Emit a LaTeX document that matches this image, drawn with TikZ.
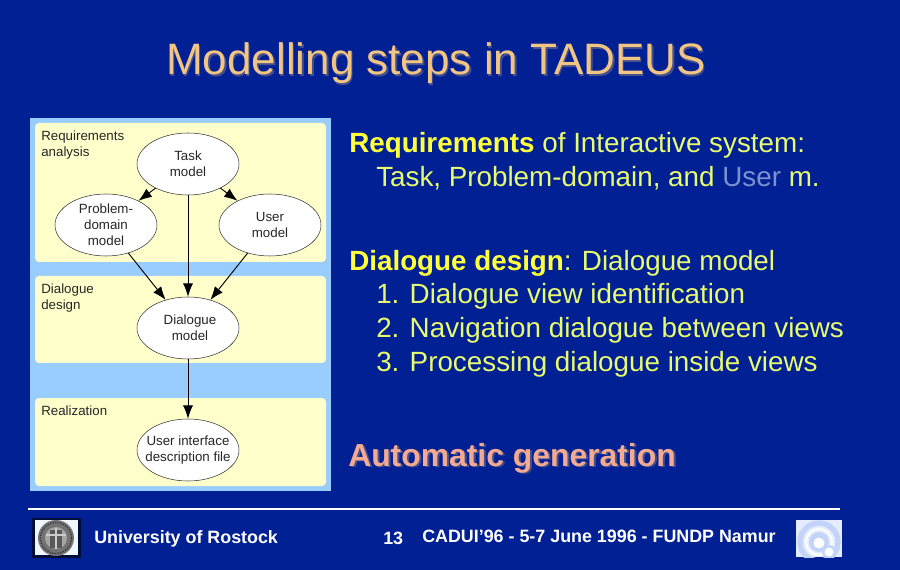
\documentclass[tikz,border=0pt]{standalone}
\usepackage{fontspec}
\setmainfont{Liberation Sans}
\usetikzlibrary{shapes.geometric,arrows.meta}
\definecolor{bgblue}{RGB}{0,32,148}
\definecolor{panelblue}{RGB}{153,204,255}
\definecolor{panelyellow}{RGB}{255,255,204}
\definecolor{titlecol}{RGB}{243,197,130}
\definecolor{titleshadow}{RGB}{70,80,140}
\definecolor{bodycol}{RGB}{232,250,110}
\definecolor{boldcol}{RGB}{255,255,60}
\definecolor{usercol}{RGB}{125,145,205}
\definecolor{autocol}{RGB}{244,170,145}
\definecolor{logocol}{RGB}{195,212,248}
\definecolor{logopale}{RGB}{228,236,253}
\tikzset{
  x=0.75pt,y=-0.75pt,
  panel/.style={fill=panelyellow,rounded corners=3pt,draw=none},
  oval/.style={ellipse,draw=black!80,fill=white,line width=0.4pt,minimum width=76.5pt,minimum height=46.5pt,inner sep=0pt,align=center,font=\fontsize{10pt}{12pt}\selectfont,text=black!85},
  plabel/.style={anchor=base west,inner sep=0pt,align=left,font=\fontsize{10pt}{12pt}\selectfont,text=black!85},
  link/.style={draw=black,line width=0.7pt,-{Latex[length=10pt,width=7.5pt]}},
  body/.style={anchor=base west,inner sep=0pt,text=bodycol,font=\fontsize{20.85pt}{24pt}\selectfont},
  foot/.style={anchor=base west,inner sep=0pt,text=white,font=\fontsize{13.4pt}{16pt}\selectfont\bfseries},
}
\begin{document}
\begin{tikzpicture}
\useasboundingbox[fill=bgblue] (0,0) rectangle (900,570);
% title
\node[anchor=base west,inner sep=0pt,text=titleshadow,font=\fontsize{33pt}{36pt}\selectfont] (titleS) at (167.5,76.5) {Modelling steps in TADEUS};
\node[anchor=base west,inner sep=0pt,text=titlecol,font=\fontsize{33pt}{36pt}\selectfont] (title) at (166,75) {Modelling steps in TADEUS};
% diagram panels
\fill[panelblue] (30,118) rectangle (331,491);
\path[panel] (35,123) rectangle (326,262);
\path[panel] (35,276) rectangle (326,363);
\path[panel] (35,398) rectangle (326,486);
\node[plabel] (l1) at (41,157) {Requirements\\analysis};
\node[plabel] (l2) at (41,310) {Dialogue\\design};
\node[plabel] (l3) at (41,416) {Realization};
\node[oval] (task) at (188,164) {Task\\model};
\node[oval] (prob) at (106,225) {Problem-\\domain\\model};
\node[oval] (user) at (270,225) {User\\model};
\node[oval] (dial) at (188,328) {\hspace*{3pt}Dialogue\\\hspace*{3pt}model};
\node[oval] (ui) at (188,450) {\makebox[40pt][c]{User interface}\\\makebox[40pt][c]{description file}};
\draw[link] (task) -- (prob);
\draw[link] (task) -- (user);
\draw[link] (task) -- (dial);
\draw[link] (prob) -- (dial);
\draw[link] (user) -- (dial);
\draw[link] (dial) -- (ui);
% body text
\node[body] (t1) at (349,153) {\textcolor{boldcol}{\bfseries Requirements} of Interactive system:};
\node[body] (t2) at (376,187) {Task, Problem-domain, and \textcolor{usercol}{User} m.};
\node[body] (t3) at (349,271) {\textcolor{boldcol}{\bfseries Dialogue design}: Dialogue model};
\node[body] (t4) at (376,304) {1. Dialogue view identification};
\node[body] (t5) at (376,338) {2. Navigation dialogue between views};
\node[body] (t6) at (376,372) {3. Processing dialogue inside views};
\node[anchor=base west,inner sep=0pt,text=titleshadow,font=\fontsize{23.9pt}{26pt}\selectfont\bfseries] (autoS) at (350,467.5) {Automatic generation};
\node[anchor=base west,inner sep=0pt,text=autocol,font=\fontsize{23.9pt}{26pt}\selectfont\bfseries] (auto) at (348,466) {Automatic generation};
% footer
\draw[white,line width=1pt] (28,509) -- (840,509);
\fill[black!20!bgblue!50!black] (32,518) rectangle (81,558);
\fill[white!85!panelblue] (35,520) rectangle (78,555);
\fill[black!55] (56,538) circle[radius=18];
\draw[black!80,line width=1pt,densely dotted] (56,538) circle[radius=15.5];
\fill[black!35] (56,538) circle[radius=11];
\fill[black!65] (50,530) rectangle (62,548);
\draw[black!20,line width=0.8pt] (56,528) -- (56,549) (46,535) -- (66,535);
\node[foot] (uni) at (94,543) {University of Rostock};
\node[foot] (num) at (383,544) {13};
\node[foot] (conf) at (422,542) {CADUI\char39 96 - 5-7 June 1996 - FUNDP Namur};
% logo
\begin{scope}
\clip (796,520) rectangle (842,557);
\fill[logopale] (796,520) rectangle (842,557);
\draw[logocol,line width=4pt] (819,542) circle[radius=19];
\draw[white,line width=1.5pt] (819,542) circle[radius=13];
\fill[logocol] (819,542) circle[radius=10];
\fill[white] (819,543) circle[radius=5.5];
\fill[logocol] (829,552) circle[radius=7];
\fill[white] (829,552) circle[radius=4.5];
\end{scope}
\end{tikzpicture}
\end{document}
